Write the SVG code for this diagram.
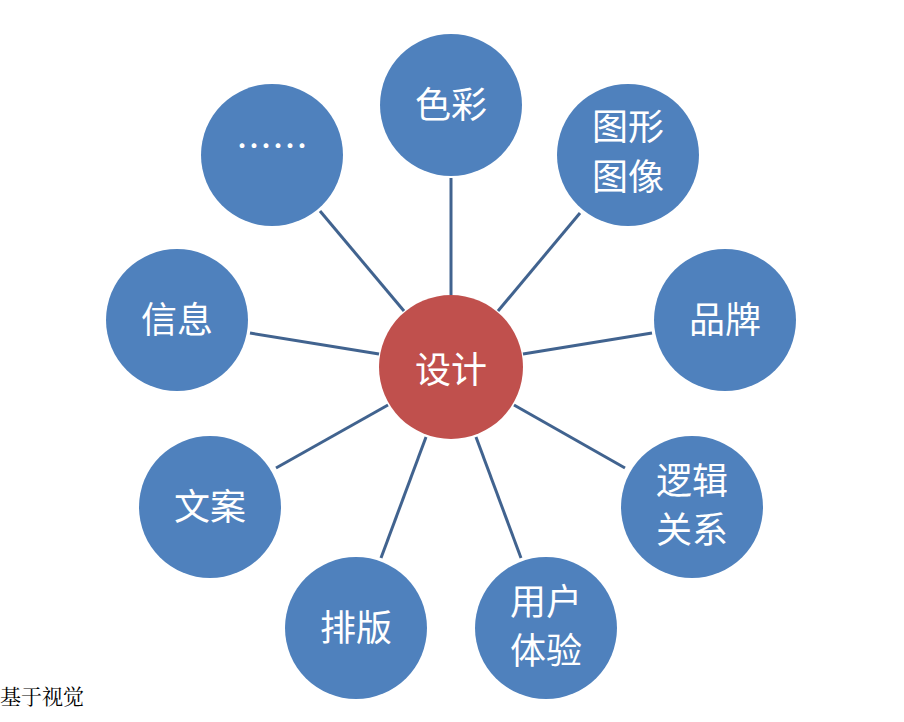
<svg xmlns="http://www.w3.org/2000/svg" width="904" height="722" viewBox="0 0 904 722">
<style>
.n{fill:#4F81BD}
.c{fill:#C0504D}
.t{fill:#fff;font-family:"Noto Sans CJK SC",sans-serif;font-size:36px;text-anchor:middle}
.e line{stroke:#41638F;stroke-width:3}
</style>
<rect width="904" height="722" fill="#fff"/>
<g id="connectors" class="e">
<line x1="451" y1="178" x2="451" y2="295"/>
<line x1="580" y1="213" x2="498" y2="311"/>
<line x1="652" y1="333" x2="523" y2="354"/>
<line x1="625" y1="468" x2="514" y2="405"/>
<line x1="521" y1="558" x2="476" y2="437"/>
<line x1="381" y1="558" x2="426" y2="437"/>
<line x1="276" y1="468" x2="388" y2="405"/>
<line x1="250" y1="333" x2="379" y2="354"/>
<line x1="320" y1="211" x2="404" y2="311"/>
</g>
<g id="center"><circle class="c" cx="451" cy="367" r="72"/><text class="t" x="451" y="383" font-size="42">设计</text></g>
<g id="n1"><circle class="n" cx="451" cy="105" r="71"/><text class="t" x="451" y="118">色彩</text></g>
<g id="n2"><circle class="n" cx="628" cy="155" r="71"/><text class="t" x="628" y="140">图形</text><text class="t" x="628" y="190">图像</text></g>
<g id="n3"><circle class="n" cx="725" cy="320" r="71"/><text class="t" x="725" y="333">品牌</text></g>
<g id="n4"><circle class="n" cx="692" cy="507" r="71"/><text class="t" x="692" y="494">逻辑</text><text class="t" x="692" y="543">关系</text></g>
<g id="n5"><circle class="n" cx="546" cy="628" r="71"/><text class="t" x="546" y="615">用户</text><text class="t" x="546" y="664">体验</text></g>
<g id="n6"><circle class="n" cx="356" cy="628" r="71"/><text class="t" x="356" y="641">排版</text></g>
<g id="n7"><circle class="n" cx="210" cy="507" r="71"/><text class="t" x="210" y="520">文案</text></g>
<g id="n8"><circle class="n" cx="177" cy="320" r="71"/><text class="t" x="177" y="333">信息</text></g>
<g id="n9"><circle class="n" cx="272" cy="155" r="71"/><text class="t" x="272" y="160" font-size="30">……</text></g>
<text x="0" y="704" font-family="'Noto Serif CJK SC','Noto Sans CJK SC',serif" font-size="21" fill="#000">基于视觉</text>
</svg>
